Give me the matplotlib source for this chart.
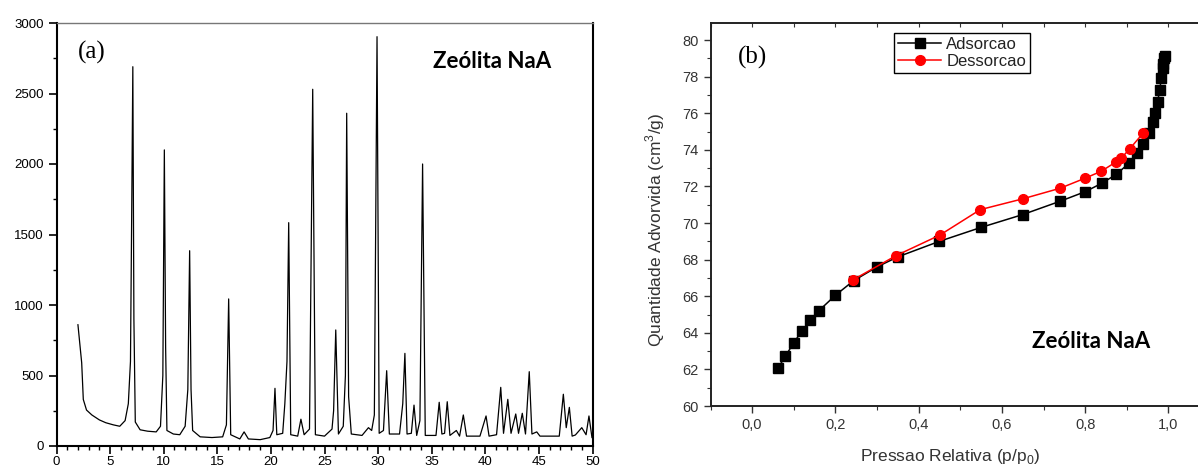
import matplotlib
matplotlib.use("Agg")
import matplotlib.pyplot as plt
from matplotlib.ticker import MultipleLocator, FuncFormatter

# (a) difratograma (2theta, intensidade)
xrd_2theta = [2.0, 2.35, 2.5, 2.8, 3.3, 4.0, 4.6, 5.3, 5.9, 6.4,
              6.7, 6.9, 7.02, 7.12, 7.22, 7.35, 7.8, 8.5, 9.3, 9.7,
              9.92, 10.06, 10.18, 10.3, 10.9, 11.5, 12.0, 12.25, 12.42, 12.55,
              12.7, 13.4, 14.5, 15.5, 15.85, 16.06, 16.25, 17.1, 17.5, 17.9,
              19.0, 19.9, 20.2, 20.38, 20.55, 21.1, 21.3, 21.5, 21.66, 21.85,
              22.5, 22.8, 23.1, 23.6, 23.9, 24.15, 25.0, 25.7, 25.85, 26.05,
              26.3, 26.75, 26.95, 27.07, 27.25, 27.5, 28.5, 29.1, 29.4, 29.65,
              29.9, 30.1, 30.5, 30.8, 31.05, 32.0, 32.3, 32.5, 32.7, 33.1,
              33.35, 33.6, 33.9, 34.15, 34.4, 35.4, 35.7, 35.95, 36.2, 36.45,
              36.7, 37.3, 37.6, 37.95, 38.25, 39.5, 40.07, 40.35, 41.05, 41.44,
              41.7, 42.1, 42.4, 42.84, 43.1, 43.45, 43.75, 44.1, 44.35, 44.8,
              45.1, 46.9, 47.28, 47.55, 47.84, 48.1, 48.4, 49.0, 49.4, 49.67,
              49.95]
xrd_int = [860, 590, 330, 255, 220, 185, 165, 150, 140, 180,
           300, 600, 1700, 2690, 900, 170, 115, 105, 100, 140,
           500, 2100, 700, 110, 85, 80, 140, 400, 1385, 400,
           110, 65, 60, 65, 150, 1043, 80, 50, 100, 50,
           45, 60, 110, 409, 80, 90, 300, 600, 1584, 80,
           70, 190, 80, 120, 2530, 80, 70, 120, 250, 823,
           85, 140, 500, 2360, 350, 85, 75, 130, 110, 220,
           2903, 90, 110, 534, 85, 85, 300, 657, 85, 90,
           290, 75, 180, 2000, 75, 75, 310, 85, 90, 314,
           75, 110, 70, 220, 70, 70, 213, 70, 80, 416,
           90, 331, 90, 227, 90, 232, 85, 527, 85, 100,
           70, 70, 367, 130, 274, 70, 78, 130, 80, 213,
           60]

# (b) isoterma
ads_p = [0.062, 0.080, 0.100, 0.120, 0.140, 0.160, 0.200, 0.244, 0.300, 0.350,
         0.450, 0.550, 0.650, 0.740, 0.800, 0.840, 0.875, 0.905, 0.925, 0.940,
         0.953, 0.962, 0.969, 0.974, 0.979, 0.983, 0.986, 0.988, 0.990, 0.991]
ads_q = [62.06, 62.73, 63.45, 64.12, 64.70, 65.20, 66.05, 66.85, 67.60, 68.15,
         69.00, 69.76, 70.46, 71.19, 71.71, 72.17, 72.66, 73.26, 73.80, 74.30,
         74.90, 75.50, 76.00, 76.60, 77.25, 77.90, 78.45, 78.70, 79.00, 79.10]
des_p = [0.940, 0.907, 0.887, 0.875, 0.839, 0.800, 0.740, 0.650, 0.548, 0.451,
         0.346, 0.242]
des_q = [74.93, 74.05, 73.55, 73.35, 72.83, 72.45, 71.90, 71.32, 70.73, 69.34,
         68.22, 66.89]

plt.rcParams['font.family'] = ['Liberation Sans', 'DejaVu Sans']

fig = plt.figure(figsize=(11.98, 4.70), dpi=100)
W, H = 1198.0, 470.0

# ---- painel (a)
ax1 = fig.add_axes([56.5 / W, 1 - 446 / H, 536 / W, 423 / H])
ax1.plot(xrd_2theta, xrd_int, color='black', lw=0.9)
ax1.set_xlim(0, 50)
ax1.set_ylim(0, 3000)
ax1.xaxis.set_major_locator(MultipleLocator(5))
ax1.xaxis.set_minor_locator(MultipleLocator(1))
ax1.yaxis.set_major_locator(MultipleLocator(500))
ax1.yaxis.set_minor_locator(MultipleLocator(250))
ax1.tick_params(which='major', length=6, width=1.2, labelsize=9.5, pad=3)
ax1.tick_params(which='minor', length=3, width=1.0)
ax1.tick_params(axis='x', labelsize=9.5, pad=1)
for s in ['left', 'bottom', 'right']:
    ax1.spines[s].set_linewidth(1.5)
ax1.spines['top'].set_color('#777777')
ax1.spines['top'].set_linewidth(1.0)
fig.text(78 / W, 1 - 52 / H, '(a)', family='Liberation Serif', fontsize=18,
         va='center', ha='left')
fig.text(433 / W, 1 - 61 / H, 'Zeólita NaA', family='Lato', fontweight='bold',
         fontsize=16, va='center', ha='left')

# ---- painel (b)
ax2 = fig.add_axes([710.5 / W, 1 - 406 / H, 499.5 / W, 383 / H])
ax2.plot(ads_p, ads_q, color='black', marker='s', ms=6.5, lw=1.1,
         label='Adsorcao')
ax2.plot(des_p, des_q, color='red', marker='o', ms=7, lw=1.1,
         label='Dessorcao')
ax2.set_xlim(-0.1, 1.1)
ax2.set_ylim(60, 80.93)
ax2.xaxis.set_major_locator(MultipleLocator(0.2))
ax2.xaxis.set_minor_locator(MultipleLocator(0.1))
ax2.yaxis.set_major_locator(MultipleLocator(2))
ax2.yaxis.set_minor_locator(MultipleLocator(1))
ax2.xaxis.set_major_formatter(FuncFormatter(lambda v, p: f'{v:.1f}'.replace('.', ',')))
ax2.tick_params(which='major', length=5, width=1.0, labelsize=10.5,
                labelcolor='#333333', color='#333333')
ax2.tick_params(which='minor', length=3, width=0.8, color='#333333')
# ticks internos no topo
top = ax2.secondary_xaxis('top')
top.xaxis.set_major_locator(MultipleLocator(0.1))
top.tick_params(direction='in', length=3, width=0.8, color='#333333',
                labeltop=False)
top.spines['top'].set_visible(False)
for s in ax2.spines.values():
    s.set_linewidth(1.4)
    s.set_color('#222222')
leg = ax2.legend(loc='upper left', bbox_to_anchor=(0.367, 0.974),
                 borderaxespad=0, fancybox=False, framealpha=1,
                 edgecolor='black', fontsize=12, handlelength=2.6,
                 handletextpad=0.3, borderpad=0.25, labelspacing=0.1)
leg.get_frame().set_linewidth(1.0)
for t in leg.get_texts():
    t.set_color('#222222')

fig.text(738 / W, 1 - 57 / H, '(b)', family='Liberation Serif', fontsize=18,
         va='center', ha='left')
fig.text(1032 / W, 1 - 342 / H, 'Zeólita NaA', family='Lato', fontweight='bold',
         fontsize=16, va='center', ha='left')
fig.text(950 / W, 1 - 457 / H, 'Pressao Relativa (p/p$_\\mathregular{0}$)',
         fontsize=12.5, color='#333333', ha='center', va='center')
fig.text(655 / W, 1 - 230 / H, 'Quantidade Advorvida (cm$^\\mathregular{3}$/g)',
         fontsize=12.5, color='#333333', ha='center', va='center', rotation=90)

fig.savefig('out.png', dpi=100)
